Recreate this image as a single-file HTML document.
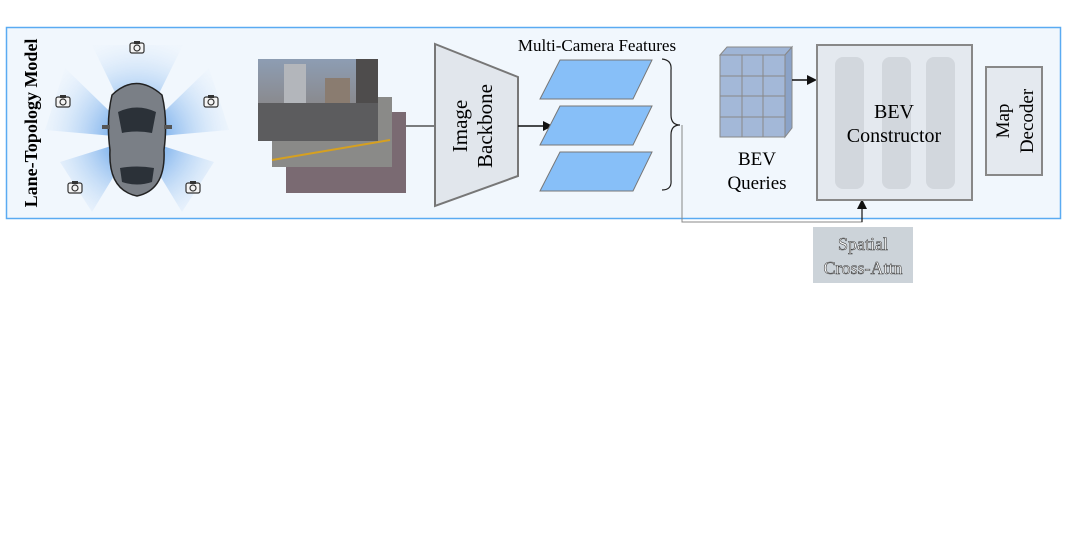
<!DOCTYPE html>
<html><head><style>
body{margin:0;background:#fff;width:1080px;height:540px;overflow:hidden;font-family:"Liberation Serif",serif}
</style></head><body>
<svg width="1080" height="540" viewBox="0 0 1080 540" xmlns="http://www.w3.org/2000/svg" font-family="Liberation Serif, serif">
<defs>
<radialGradient id="fan" cx="137" cy="138" r="100" gradientUnits="userSpaceOnUse">
<stop offset="0.25" stop-color="#4f96e6"/><stop offset="1" stop-color="#e8f2fd" stop-opacity="0.2"/></radialGradient>
<linearGradient id="sky" x1="0" y1="0" x2="0" y2="1"><stop offset="0" stop-color="#8d9db3"/><stop offset="0.55" stop-color="#8a8a8e"/><stop offset="1" stop-color="#5a5a5c"/></linearGradient>
<g id="cam"><rect x="-7" y="-4" width="14" height="10" rx="2" fill="#f4f4f4" stroke="#333" stroke-width="1.2"/><rect x="-3" y="-6" width="6" height="3" fill="#333"/><circle cx="0" cy="1" r="3" fill="none" stroke="#333" stroke-width="1.2"/></g>
</defs>
<rect x="6.5" y="27.5" width="1054" height="191" fill="#f1f7fd" stroke="#5aabf2" stroke-width="1.5"/>
<text transform="translate(37,123) rotate(-90)" text-anchor="middle" font-weight="bold" font-size="18">Lane-Topology Model</text>
<g fill="url(#fan)" opacity="0.7">
<polygon points="137,138 92,45 183,45"/>
<polygon points="137,138 45,130 65,68"/>
<polygon points="137,138 229,130 209,68"/>
<polygon points="137,138 60,162 92,212"/>
<polygon points="137,138 214,162 182,212"/>
</g>
<path d="M112,95 Q136,72 162,95 Q168,120 164,150 Q166,190 137,196 Q108,190 110,150 Q106,120 112,95Z" fill="#7a7f86" stroke="#222" stroke-width="1.5"/>
<path d="M118,112 Q137,103 156,112 L152,133 Q137,130 122,133Z" fill="#2b3138"/>
<path d="M120,168 Q137,165 154,168 L152,182 Q137,187 122,182Z" fill="#2b3138"/>
<rect x="102" y="125" width="8" height="4" fill="#555"/><rect x="164" y="125" width="8" height="4" fill="#555"/>
<use href="#cam" x="137" y="47"/><use href="#cam" x="63" y="101"/><use href="#cam" x="211" y="101"/><use href="#cam" x="75" y="187"/><use href="#cam" x="193" y="187"/>
<rect x="286" y="112" width="120" height="81" fill="#7a6a72"/>
<rect x="272" y="97" width="120" height="70" fill="#8a8a88"/>
<line x1="272" y1="160" x2="390" y2="140" stroke="#d6a020" stroke-width="2"/>
<rect x="258" y="59" width="120" height="82" fill="url(#sky)"/>
<rect x="284" y="64" width="22" height="42" fill="#b3b6bb"/><rect x="325" y="78" width="25" height="28" fill="#8a7c70"/><rect x="356" y="59" width="22" height="45" fill="#4e4c4c"/>
<rect x="258" y="103" width="120" height="38" fill="#5c5c5e"/>
<line x1="406" y1="126" x2="435" y2="126" stroke="#333" stroke-width="1.2"/>
<polygon points="435,44 518,77 518,176 435,206" fill="#e1e6ec" stroke="#777" stroke-width="2"/>
<text transform="translate(467,126) rotate(-90)" text-anchor="middle" font-size="21">Image</text>
<text transform="translate(492,126) rotate(-90)" text-anchor="middle" font-size="21">Backbone</text>
<line x1="518" y1="126" x2="545" y2="126" stroke="#111" stroke-width="1.5"/>
<polygon points="553,126 543,121 543,131" fill="#111"/>
<text x="597" y="51" text-anchor="middle" font-size="17">Multi-Camera Features</text>
<g fill="#87bff8" stroke="#777" stroke-width="1">
<polygon points="560,60 652,60 633,99 540,99"/>
<polygon points="560,106 652,106 633,145 540,145"/>
<polygon points="560,152 652,152 633,191 540,191"/>
</g>
<path d="M662,59 Q672,60 671,70 L671,115 Q671,125 680,125 Q671,125 671,135 L671,180 Q672,190 662,190" fill="none" stroke="#222" stroke-width="1.2"/>
<path d="M682,125 V222 H862 V208" fill="none" stroke="#888" stroke-width="1"/>
<line x1="862" y1="222" x2="862" y2="206" stroke="#111" stroke-width="1.2"/>
<polygon points="862,199 857,209 867,209" fill="#111"/>
<polygon points="720,55 727,47 792,47 785,55" fill="#9fb5d6" stroke="#888"/>
<polygon points="785,55 792,47 792,128 785,137" fill="#8ba3c8" stroke="#888"/>
<rect x="720" y="55" width="65" height="82" fill="#a3b8d8" stroke="#888"/>
<g stroke="#888"><line x1="742" y1="55" x2="742" y2="137"/><line x1="763" y1="55" x2="763" y2="137"/>
<line x1="720" y1="76" x2="785" y2="76"/><line x1="720" y1="96" x2="785" y2="96"/><line x1="720" y1="117" x2="785" y2="117"/></g>
<text x="757" y="165" text-anchor="middle" font-size="19">BEV</text>
<text x="757" y="189" text-anchor="middle" font-size="19">Queries</text>
<line x1="792" y1="80" x2="808" y2="80" stroke="#111" stroke-width="1.5"/>
<polygon points="817,80 807,75 807,85" fill="#111"/>
<rect x="817" y="45" width="155" height="155" fill="#e4e9ef" stroke="#888" stroke-width="2"/>
<g fill="#d2d7dd"><rect x="835" y="57" width="29" height="132" rx="8"/><rect x="882" y="57" width="29" height="132" rx="8"/><rect x="926" y="57" width="29" height="132" rx="8"/></g>
<text x="894" y="118" text-anchor="middle" font-size="20">BEV</text>
<text x="894" y="142" text-anchor="middle" font-size="20">Constructor</text>
<rect x="986" y="67" width="56" height="108" fill="#e4e9ef" stroke="#888" stroke-width="2"/>
<text transform="translate(1009,121) rotate(-90)" text-anchor="middle" font-size="19">Map</text>
<text transform="translate(1033,121) rotate(-90)" text-anchor="middle" font-size="19">Decoder</text>
<rect x="813" y="227" width="100" height="56" fill="#ccd3d9"/>
<g font-size="18" fill="#fff" stroke="#444" stroke-width="0.6" text-anchor="middle">
<text x="863" y="250">Spatial</text><text x="863" y="274">Cross-Attn</text></g>
</svg>
</body></html>
